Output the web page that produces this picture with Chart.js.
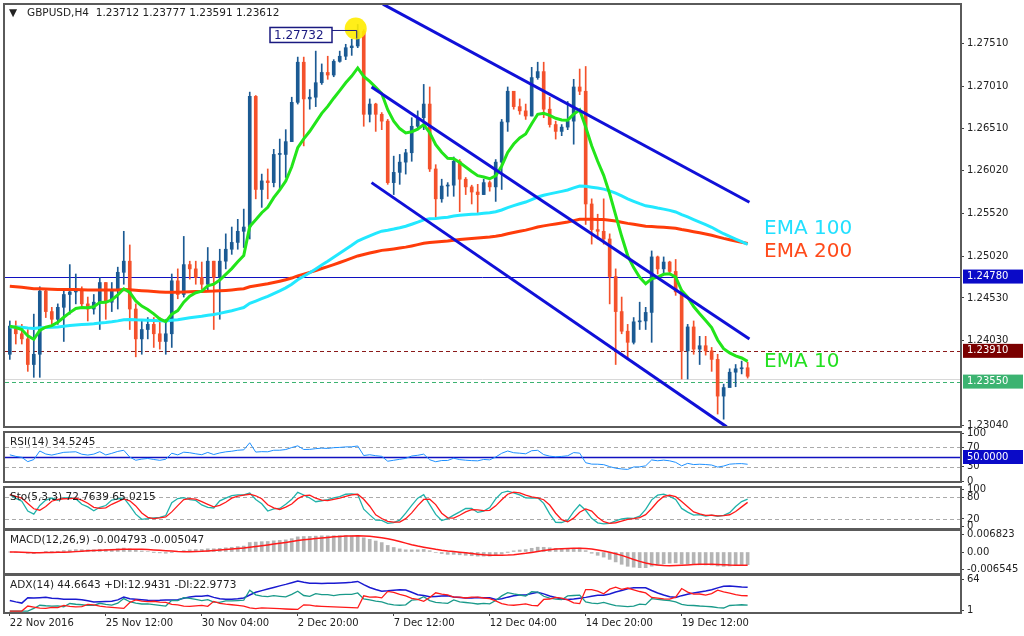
<!DOCTYPE html>
<html>
<head>
<meta charset="utf-8">
<script src="https://cdn.jsdelivr.net/npm/chart.js@4.4.1/dist/chart.umd.min.js"></script>
<style>
  body { margin: 0; background: #fff; }
  #wrap { position: relative; width: 1024px; height: 636px; overflow: hidden; background: #fff; }
  #wrap canvas { position: absolute; left: 0; }
</style>
</head>
<body>
<div id="wrap">
  <canvas id="main" width="1024" height="446" style="top:-10px"></canvas>
  <canvas id="rsi" width="1024" height="68" style="top:423px"></canvas>
  <canvas id="sto" width="1024" height="60" style="top:478px"></canvas>
  <canvas id="macd" width="1024" height="62" style="top:521px"></canvas>
  <canvas id="adx" width="1024" height="68" style="top:566px"></canvas>
</div>
<script>
// GBPUSD H4, 22 Nov - 20 Dec 2016
const firstOpen = 1.2387;
const closes = [
  1.2420, 1.2411, 1.2405, 1.2375, 1.2387, 1.2461, 1.2437, 1.2428, 1.2442, 1.2457,
  1.2460, 1.2463, 1.2446, 1.2440, 1.2448, 1.2471, 1.2448, 1.2463, 1.2483, 1.2496,
  1.2440, 1.2405, 1.2416, 1.2422, 1.2411, 1.2402, 1.2411, 1.2473, 1.2457, 1.2492,
  1.2487, 1.2477, 1.2469, 1.2496, 1.2477, 1.2496, 1.2510, 1.2518, 1.2531, 1.2536,
  1.2689, 1.2580, 1.2590, 1.2588, 1.2621, 1.2621, 1.2636, 1.2682, 1.2729, 1.2686,
  1.2688, 1.2705, 1.2717, 1.2714, 1.2730, 1.2736, 1.2746, 1.2748, 1.2765, 1.2668,
  1.2680, 1.2668, 1.2660, 1.2588, 1.2600, 1.2612, 1.2623, 1.2654, 1.2664, 1.2680,
  1.2604, 1.2569, 1.2584, 1.2585, 1.2613, 1.2592, 1.2583, 1.2577, 1.2574, 1.2588,
  1.2583, 1.2612, 1.2659, 1.2695, 1.2677, 1.2672, 1.2666, 1.2711, 1.2718, 1.2674,
  1.2656, 1.2648, 1.2653, 1.2660, 1.2700, 1.2695, 1.2563, 1.2533, 1.2531, 1.2522,
  1.2478, 1.2437, 1.2414, 1.2401, 1.2425, 1.2426, 1.2436, 1.2501, 1.2487, 1.2495,
  1.2484, 1.2460, 1.2391, 1.2419, 1.2393, 1.2397, 1.2391, 1.2381, 1.2338, 1.2348,
  1.2366, 1.2370, 1.23712, 1.23612
];
const highs = [
  1.2426, 1.2426, 1.2422, 1.2416, 1.2434, 1.2466, 1.2463, 1.2442, 1.2446, 1.2463,
  1.2492, 1.2481, 1.2466, 1.2454, 1.2457, 1.2477, 1.2471, 1.2471, 1.2489, 1.2531,
  1.2515, 1.2446, 1.2426, 1.2430, 1.2430, 1.2430, 1.2428, 1.2481, 1.2487, 1.2525,
  1.2496, 1.2496, 1.2495, 1.2512, 1.2496, 1.2510, 1.2528, 1.2536, 1.2545, 1.2557,
  1.2694, 1.2690, 1.2598, 1.2604, 1.2627, 1.2639, 1.2650, 1.2688, 1.2735, 1.2735,
  1.2697, 1.2742, 1.2727, 1.2736, 1.2732, 1.2742, 1.2750, 1.2756, 1.27732, 1.2767,
  1.2686, 1.2681, 1.2670, 1.2662, 1.2619, 1.2621, 1.2627, 1.2664, 1.2672, 1.2703,
  1.2700, 1.2609, 1.2592, 1.2588, 1.2618, 1.2615, 1.2594, 1.2585, 1.2586, 1.2592,
  1.2590, 1.2615, 1.2662, 1.2700, 1.2694, 1.2686, 1.2680, 1.2723, 1.2729, 1.2729,
  1.2688, 1.2660, 1.2656, 1.2683, 1.2709, 1.2721, 1.2724, 1.2569, 1.2551, 1.2569,
  1.2528, 1.2487, 1.2454, 1.2422, 1.2430, 1.2448, 1.2442, 1.2508, 1.2502, 1.2501,
  1.2496, 1.2498, 1.2463, 1.2422, 1.2426, 1.2408, 1.2408, 1.2395, 1.2387, 1.2352,
  1.2370, 1.2375, 1.2379, 1.23777
];
const lows = [
  1.2381, 1.2399, 1.2399, 1.2367, 1.2360, 1.2360, 1.2430, 1.2422, 1.2422, 1.2402,
  1.2434, 1.2446, 1.2442, 1.2426, 1.2434, 1.2416, 1.2428, 1.2437, 1.2440, 1.2469,
  1.2416, 1.2384, 1.2387, 1.2405, 1.2395, 1.2393, 1.2387, 1.2395, 1.2452, 1.2454,
  1.2475, 1.2469, 1.2463, 1.2461, 1.2416, 1.2428, 1.2487, 1.2504, 1.2510, 1.2512,
  1.2522, 1.2569, 1.2559, 1.2569, 1.2583, 1.2580, 1.2594, 1.2636, 1.2680, 1.2631,
  1.2674, 1.2677, 1.2703, 1.2709, 1.2712, 1.2729, 1.2732, 1.2737, 1.2746, 1.2654,
  1.2659, 1.2648, 1.2650, 1.2586, 1.2574, 1.2586, 1.2598, 1.2613, 1.2650, 1.2650,
  1.2601, 1.2547, 1.2565, 1.2572, 1.2572, 1.2554, 1.2574, 1.2563, 1.2553, 1.2574,
  1.2578, 1.2566, 1.2580, 1.2648, 1.2674, 1.2668, 1.2662, 1.2666, 1.2709, 1.2664,
  1.2653, 1.2639, 1.2643, 1.2650, 1.2633, 1.2691, 1.2539, 1.2516, 1.2522, 1.2516,
  1.2446, 1.2375, 1.2411, 1.2381, 1.2399, 1.2416, 1.2416, 1.2401, 1.2481, 1.2482,
  1.2480, 1.2456, 1.2358, 1.2358, 1.2387, 1.2375, 1.2386, 1.2367, 1.2317, 1.2311,
  1.2349, 1.2349, 1.2364, 1.23591
];
const opens = closes.map((c, i) => i === 0 ? firstOpen : closes[i - 1]);

// EMA 100 / 200 start values (history before the visible window)
const ema100Start = 1.2419;
const ema200Start = 1.2467;

// channel lines: [bar index, price]
const channelUpper = [[62.2, 1.2797], [123.3, 1.2565]];
const channelMid = [[60.3, 1.2700], [123.3, 1.2405]];
const channelLow = [[60.3, 1.2588], [119.5, 1.2302]];

const priceTicks = [1.27510, 1.27010, 1.26510, 1.26020, 1.25520, 1.25020, 1.24530, 1.24030, 1.23040];
const dateTicks = [0, 16, 32, 48, 64, 80, 96, 112];
const dateLabels = ['22 Nov 2016', '25 Nov 12:00', '30 Nov 04:00', '2 Dec 20:00', '7 Dec 12:00', '12 Dec 04:00', '14 Dec 20:00', '19 Dec 12:00'];

const N = closes.length;
const idx = closes.map((_, i) => i);

function ema(src, n, seed) {
    const k = 2 / (n + 1);
    let e = seed === undefined ? src[0] : seed;
    return src.map(v => (e = e + k * (v - e)));
}
function sma(src, n) {
    return src.map((_, i) => {
        const s = src.slice(Math.max(0, i - n + 1), i + 1);
        return s.reduce((a, b) => a + b, 0) / s.length;
    });
}

const ema10 = ema(closes, 10);
const ema100 = ema(closes, 100, ema100Start);
const ema200 = ema(closes, 200, ema200Start);

// RSI(14)
const rsi = [];
let ag = 0.0006, al = 0.0005;
closes.forEach((c, i) => {
    if (i > 0) {
        const d = c - closes[i - 1];
        ag = (ag * 13 + Math.max(d, 0)) / 14;
        al = (al * 13 + Math.max(-d, 0)) / 14;
    }
    rsi.push(100 - 100 / (1 + ag / al));
});

// Stochastic(5,3,3)
const lo5 = idx.map(i => Math.min(...lows.slice(Math.max(0, i - 4), i + 1)));
const hi5 = idx.map(i => Math.max(...highs.slice(Math.max(0, i - 4), i + 1)));
const stoK = idx.map(i => {
    let num = 0, den = 0;
    for (let j = Math.max(0, i - 2); j <= i; j++) { num += closes[j] - lo5[j]; den += hi5[j] - lo5[j]; }
    return den ? num / den * 100 : 50;
});
const stoD = sma(stoK, 3);

// MACD(12,26,9)
const ema12 = ema(closes, 12), ema26 = ema(closes, 26);
const macdMain = ema12.map((v, i) => v - ema26[i]);
const macdSignal = sma(macdMain, 9);

// ADX(14)
const pdm = [0], mdm = [0], tr = [highs[0] - lows[0]];
for (let i = 1; i < N; i++) {
    const up = highs[i] - highs[i - 1], dn = lows[i - 1] - lows[i];
    pdm.push(up > dn && up > 0 ? up : 0);
    mdm.push(dn > up && dn > 0 ? dn : 0);
    tr.push(Math.max(highs[i] - lows[i], Math.abs(highs[i] - closes[i - 1]), Math.abs(lows[i] - closes[i - 1])));
}
const sTr = ema(tr, 14), sP = ema(pdm, 14), sM = ema(mdm, 14);
const plusDI = idx.map(i => 100 * sP[i] / sTr[i]);
const minusDI = idx.map(i => 100 * sM[i] / sTr[i]);
const dx = idx.map(i => 100 * Math.abs(plusDI[i] - minusDI[i]) / Math.max(plusDI[i] + minusDI[i], 1e-9));
const adx = ema(dx, 14, 25);

const BLUE = '#1b5a93', RED = '#f4512b';
const candleColor = idx.map(i => closes[i] >= opens[i] ? BLUE : RED);
const FONT = { family: 'DejaVu Sans', size: 10 };
const X_MIN = -0.8, X_MAX = 158.4;

Chart.defaults.animation = false;
Chart.defaults.devicePixelRatio = 1;
Chart.defaults.font.family = 'DejaVu Sans';

// panel frame, level lines, labels and value boxes
const panelPlugin = {
    id: 'panel',
    beforeDatasetsDraw(chart, args, opts) {
        const { ctx, chartArea: a, scales: { y } } = chart;
        (opts.levels || []).forEach(l => {
            ctx.save();
            ctx.strokeStyle = l.color; ctx.lineWidth = l.width || 1;
            ctx.setLineDash(l.dash || []);
            ctx.beginPath();
            const py = Math.round(y.getPixelForValue(l.v)) + 0.5;
            ctx.moveTo(a.left, py); ctx.lineTo(a.right, py); ctx.stroke();
            ctx.restore();
        });
    },
    afterDraw(chart, args, opts) {
        const { ctx, chartArea: a, scales: { y } } = chart;
        ctx.save();
        ctx.strokeStyle = '#5a5a5a'; ctx.lineWidth = 2;
        ctx.strokeRect(a.left - 1, a.top - 1, a.right - a.left + 2, a.bottom - a.top + 2);
        if (opts.title) {
            ctx.fillStyle = '#222'; ctx.font = '10.5px "DejaVu Sans"';
            ctx.textBaseline = 'top';
            ctx.fillText(opts.title, a.left + 5, a.top + 4);
        }
        (opts.boxes || []).forEach(b => {
            const py = y.getPixelForValue(b.v);
            ctx.fillStyle = b.bg;
            ctx.fillRect(a.right + 3, py - 7, 60, 14);
            ctx.fillStyle = '#fff'; ctx.font = '10px "DejaVu Sans"';
            ctx.textBaseline = 'middle';
            ctx.fillText(b.text, a.right + 7, py);
        });
        ctx.restore();
    }
};

function yAxis(min, max, ticks, fmt) {
    return {
        position: 'right', min, max,
        afterFit: s => { s.width = 64; },
        afterBuildTicks: s => { s.ticks = ticks.map(v => ({ value: v })); },
        grid: { drawOnChartArea: false, tickLength: 4, color: '#444' },
        border: { display: false },
        ticks: { autoSkip: false, color: '#222', font: FONT, padding: 3, callback: fmt }
    };
}
function xAxis(show) {
    return {
        type: 'linear', min: X_MIN, max: X_MAX, display: show, offset: false,
        afterFit: s => { s.height = show ? 22 : 0; },
        afterBuildTicks: s => { s.ticks = dateTicks.map(v => ({ value: v })); },
        grid: { drawOnChartArea: false, tickLength: 4, color: '#444', offset: false },
        border: { display: false },
        ticks: { autoSkip: false, maxRotation: 0, align: 'start', color: '#222', font: FONT, padding: 1,
                 callback: v => dateLabels[dateTicks.indexOf(v)] }
    };
}
function line(data, color, width) {
    return { type: 'line', data: data.map((v, i) => ({ x: i, y: v })), borderColor: color,
             borderWidth: width, pointRadius: 0, tension: 0 };
}
function seg(pts, color) {
    return { type: 'line', data: pts.map(p => ({ x: p[0], y: p[1] })), borderColor: color,
             borderWidth: 3, pointRadius: 0 };
}
const baseOpts = (pad) => ({
    responsive: false,
    layout: { padding: Object.assign({ left: 5, right: 0, top: 10, bottom: 10 }, pad) },
    plugins: { legend: { display: false }, tooltip: { enabled: false } }
});

// ---- main price panel
const mainExtras = {
    id: 'mainExtras',
    afterDraw(chart) {
        const { ctx, scales: { x, y } } = chart;
        ctx.save();
        ctx.fillStyle = '#222'; ctx.font = '10.5px "DejaVu Sans"'; ctx.textBaseline = 'middle';
        ctx.fillText('\u25BC', 9, 23);
        ctx.fillText('GBPUSD,H4  1.23712 1.23777 1.23591 1.23612', 27, 23);
        // high marker
        const hx = x.getPixelForValue(58), hy = y.getPixelForValue(1.27732);
        ctx.fillStyle = 'rgba(255,236,0,0.9)';
        ctx.beginPath(); ctx.arc(hx - 2, hy + 4, 11, 0, Math.PI * 2); ctx.fill();
        ctx.fillStyle = '#fff';
        ctx.fillRect(270, hy + 3, 62, 15);
        ctx.strokeStyle = '#1a1a80'; ctx.lineWidth = 1.5;
        ctx.strokeRect(270, hy + 3, 62, 15);
        ctx.beginPath(); ctx.moveTo(332, hy + 6); ctx.lineTo(hx - 1, hy + 6); ctx.lineTo(hx - 1, hy + 14); ctx.lineWidth = 1; ctx.stroke();
        ctx.fillStyle = '#1a1a80'; ctx.font = '12px "DejaVu Sans"';
        ctx.fillText('1.27732', 274, hy + 11);
        // EMA captions
        ctx.font = '20px "DejaVu Sans"';
        ctx.fillStyle = '#22e0ff'; ctx.fillText('EMA 100', 764, y.getPixelForValue(1.2534));
        ctx.fillStyle = '#ff4a1a'; ctx.fillText('EMA 200', 764, y.getPixelForValue(1.2507));
        ctx.fillStyle = '#22e020'; ctx.fillText('EMA 10', 764, y.getPixelForValue(1.2378));
        ctx.restore();
    }
};

new Chart(document.getElementById('main'), {
    type: 'bar',
    data: {
        datasets: [
            { type: 'bar', data: idx.map(i => ({ x: i, y: [lows[i], highs[i]] })), backgroundColor: candleColor,
              barThickness: 1, grouped: false, order: 5 },
            { type: 'bar', data: idx.map(i => ({ x: i, y: [opens[i], closes[i]] })), backgroundColor: candleColor,
              barThickness: 3, minBarLength: 1, grouped: false, order: 4 },
            Object.assign(line(ema200, '#ff3c0a', 3), { order: 3 }),
            Object.assign(line(ema100, '#22e8ff', 3), { order: 2 }),
            Object.assign(line(ema10, '#22e51a', 3), { order: 1 }),
            Object.assign(seg(channelUpper, '#1010d8'), { order: 0 }),
            Object.assign(seg(channelMid, '#1010d8'), { order: 0 }),
            Object.assign(seg(channelLow, '#1010d8'), { order: 0 })
        ]
    },
    options: Object.assign(baseOpts({ top: 15 }), {
        scales: { x: xAxis(false), y: yAxis(1.2303, 1.2796, priceTicks, v => v.toFixed(5)) },
        plugins: {
            legend: { display: false }, tooltip: { enabled: false },
            panel: {
                levels: [
                    { v: 1.24780, color: '#1010c0' },
                    { v: 1.23910, color: '#8b1a1a', dash: [4, 3] },
                    { v: 1.23580, color: '#d8d8d8' },
                    { v: 1.23550, color: '#3cb371', dash: [4, 3] }
                ],
                boxes: [
                    { v: 1.24780, bg: '#0a0ac8', text: '1.24780' },
                    { v: 1.23910, bg: '#7a0000', text: '1.23910' },
                    { v: 1.23550, bg: '#3cb371', text: '1.23550' }
                ]
            }
        }
    }),
    plugins: [panelPlugin, mainExtras]
});

// ---- RSI
new Chart(document.getElementById('rsi'), {
    type: 'line',
    data: { datasets: [line(rsi, '#1e90ff', 1)] },
    options: Object.assign(baseOpts({}), {
        scales: { x: xAxis(false), y: yAxis(0, 100, [100, 70, 30, 0]) },
        plugins: {
            legend: { display: false }, tooltip: { enabled: false },
            panel: {
                title: 'RSI(14) 34.5245',
                levels: [{ v: 70, color: '#aaa', dash: [4, 3] }, { v: 30, color: '#aaa', dash: [4, 3] },
                         { v: 50, color: '#1010c0', width: 1.5 }],
                boxes: [{ v: 50, bg: '#0a0ac8', text: '50.0000' }]
            }
        }
    }),
    plugins: [panelPlugin]
});

// ---- Stochastic
new Chart(document.getElementById('sto'), {
    type: 'line',
    data: { datasets: [line(stoD, '#ff1a1a', 1.3), line(stoK, '#20b2aa', 1.3)] },
    options: Object.assign(baseOpts({}), {
        scales: { x: xAxis(false), y: yAxis(-5, 105, [100, 80, 20, 0]) },
        plugins: {
            legend: { display: false }, tooltip: { enabled: false },
            panel: {
                title: 'Sto(5,3,3) 72.7639 65.0215',
                levels: [{ v: 80, color: '#aaa', dash: [4, 3] }, { v: 20, color: '#aaa', dash: [4, 3] }]
            }
        }
    }),
    plugins: [panelPlugin]
});

// ---- MACD
new Chart(document.getElementById('macd'), {
    type: 'bar',
    data: {
        datasets: [
            { type: 'bar', data: macdMain.map((v, i) => ({ x: i, y: v })), backgroundColor: '#b4b4b4',
              barThickness: 3, order: 2 },
            Object.assign(line(macdSignal, '#ff1a1a', 1.5), { order: 1 })
        ]
    },
    options: Object.assign(baseOpts({}), {
        scales: { x: xAxis(false), y: yAxis(-0.0080, 0.0080, [0.006823, 0, -0.006545],
                                             v => v === 0 ? '0.00' : v.toFixed(6)) },
        plugins: {
            legend: { display: false }, tooltip: { enabled: false },
            panel: { title: 'MACD(12,26,9) -0.004793 -0.005047' }
        }
    }),
    plugins: [panelPlugin]
});

// ---- ADX
new Chart(document.getElementById('adx'), {
    type: 'line',
    data: { datasets: [line(minusDI, '#ff1a1a', 1.3), line(plusDI, '#1a9a8a', 1.3), line(adx, '#1a1ad0', 1.5)] },
    options: Object.assign(baseOpts({ bottom: 0 }), {
        scales: { x: xAxis(true), y: yAxis(-2, 72, [64, 1]) },
        plugins: {
            legend: { display: false }, tooltip: { enabled: false },
            panel: { title: 'ADX(14) 44.6643 +DI:12.9431 -DI:22.9773' }
        }
    }),
    plugins: [panelPlugin]
});
</script>
</body>
</html>
